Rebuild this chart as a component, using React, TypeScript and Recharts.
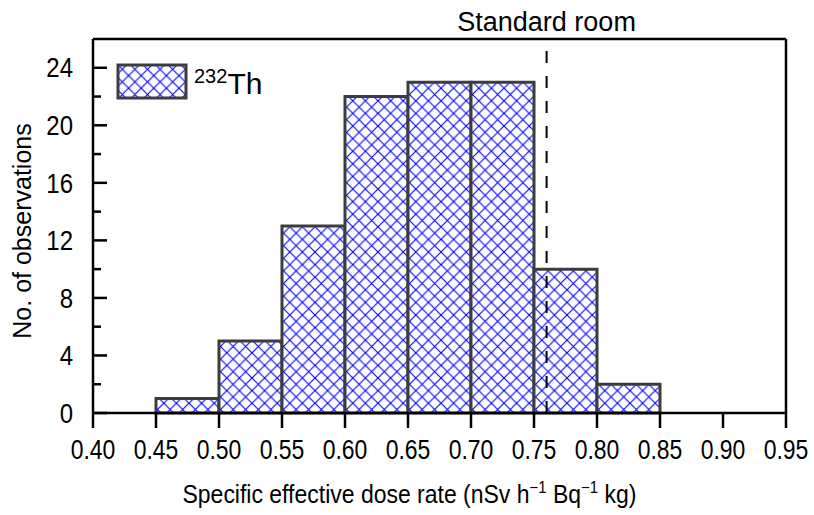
import { ComposedChart, Bar, XAxis, YAxis, ReferenceLine, Label } from "recharts";

const binStarts = ["0.40", "0.45", "0.50", "0.55", "0.60", "0.65", "0.70", "0.75", "0.80", "0.85", "0.90"];
const counts = [null, 1, 5, 13, 22, 23, 23, 10, 2, null, null];
const xTicks = [0.4, 0.45, 0.5, 0.55, 0.6, 0.65, 0.7, 0.75, 0.8, 0.85, 0.9, 0.95];
const yTicks = [0, 2, 4, 6, 8, 10, 12, 14, 16, 18, 20, 22, 24];
const standardRoom = 0.76;

const data = binStarts.map((b, i) => ({ bin: b, start: parseFloat(b), count: counts[i] }));

const FONT = "'Liberation Sans', Arial, sans-serif";

// reference text is a little stretched vertically
const YTick = (props: any) => {
  const { x, y, payload } = props;
  const major = payload.value % 4 === 0;
  return (
    <g>
      <line x1={x + 20} x2={x + 20 + (major ? 14 : 8)} y1={y} y2={y} stroke="#000" strokeWidth={2.5} />
      {major && (
        <text transform={`translate(${x},${y}) scale(1,1.12)`} dy="0.36em" textAnchor="end" fontSize={24} fontFamily={FONT} fill="#000">
          {payload.value}
        </text>
      )}
    </g>
  );
};

const XTick = (props: any) => {
  const { x, y, payload } = props;
  return (
    <text transform={`translate(${x},${y}) scale(1,1.18)`} dy="0.71em" textAnchor="middle" fontSize={23} fontFamily={FONT} fill="#000">
      {Number(payload.value).toFixed(2)}
    </text>
  );
};

const XTitle = (props: any) => {
  const { viewBox } = props;
  const cx = viewBox.x + viewBox.width / 2;
  return (
    <text transform={`translate(${cx - 30},${viewBox.y + 90}) scale(1,1.1)`} textAnchor="middle" fontSize={23} fontFamily={FONT} fill="#000">
      Specific effective dose rate (nSv h
      <tspan dy={-9} fontSize={15}>−1</tspan>
      <tspan dy={9}> Bq</tspan>
      <tspan dy={-9} fontSize={15}>−1</tspan>
      <tspan dy={9}> kg)</tspan>
    </text>
  );
};

const YTitle = (props: any) => {
  const { viewBox } = props;
  const cy = viewBox.y + viewBox.height / 2 + 5;
  return (
    <text x={31} y={cy} transform={`rotate(-90, 31, ${cy})`} textAnchor="middle" fontSize={25} fontFamily={FONT} fill="#000">
      No. of observations
    </text>
  );
};

export default function App() {
  return (
    <div style={{ position: "absolute", left: 0, top: 0, width: 814, height: 515, background: "#fff" }}>
      <svg width={0} height={0} style={{ position: "absolute" }}>
        <defs>
          <pattern id="hatch" patternUnits="userSpaceOnUse" width={12.6} height={12.6}>
            <rect width={12.6} height={12.6} fill="#fff" />
            <path d="M0,0 L12.6,12.6 M12.6,0 L0,12.6" stroke="#0000ff" strokeWidth={1.1} />
          </pattern>
        </defs>
      </svg>
      <ComposedChart
        width={814}
        height={515}
        data={data}
        margin={{ top: 39, right: 28, bottom: 42, left: 33 }}
        barCategoryGap={0}
        barGap={0}
      >
        <XAxis xAxisId="cat" dataKey="bin" type="category" hide height={0} />
        <XAxis
          xAxisId="num"
          dataKey="start"
          type="number"
          domain={[0.4, 0.95]}
          allowDataOverflow
          ticks={xTicks}
          height={60}
          tickSize={15}
          tickMargin={12}
          axisLine={{ stroke: "#000", strokeWidth: 2.5 }}
          tickLine={{ stroke: "#000", strokeWidth: 2.5 }}
          tick={XTick}
        >
          <Label content={XTitle} />
        </XAxis>
        <YAxis
          domain={[0, 26]}
          ticks={yTicks}
          width={60}
          tickSize={0}
          tickMargin={20}
          tickLine={false}
          tick={YTick}
          axisLine={{ stroke: "#000", strokeWidth: 2.5 }}
        >
          <Label content={YTitle} />
        </YAxis>
        <Bar
          xAxisId="cat"
          dataKey="count"
          fill="url(#hatch)"
          stroke="#3c3c3c"
          strokeWidth={3}
          isAnimationActive={false}
        />
        <ReferenceLine xAxisId="num" y={26} stroke="#000" strokeWidth={2.5} />
        <ReferenceLine xAxisId="num" x={0.95} stroke="#000" strokeWidth={2.5} />
        <ReferenceLine
          xAxisId="num"
          x={standardRoom}
          stroke="#000"
          strokeWidth={2}
          strokeDasharray="12 13"
          label={{ value: "Standard room", position: "top", offset: 8, fontSize: 27, fontFamily: FONT, fill: "#000" }}
        />
      </ComposedChart>
      <div style={{ position: "absolute", left: 116, top: 63, display: "flex", alignItems: "center", fontFamily: FONT }}>
        <svg width={72} height={38}>
          <rect x={2} y={2} width={68} height={33} fill="url(#hatch)" stroke="#3c3c3c" strokeWidth={3} />
        </svg>
        <span style={{ fontSize: 30, marginLeft: 6, color: "#000", lineHeight: 1 }}>
          <sup style={{ fontSize: 20 }}>232</sup>Th
        </span>
      </div>
    </div>
  );
}
